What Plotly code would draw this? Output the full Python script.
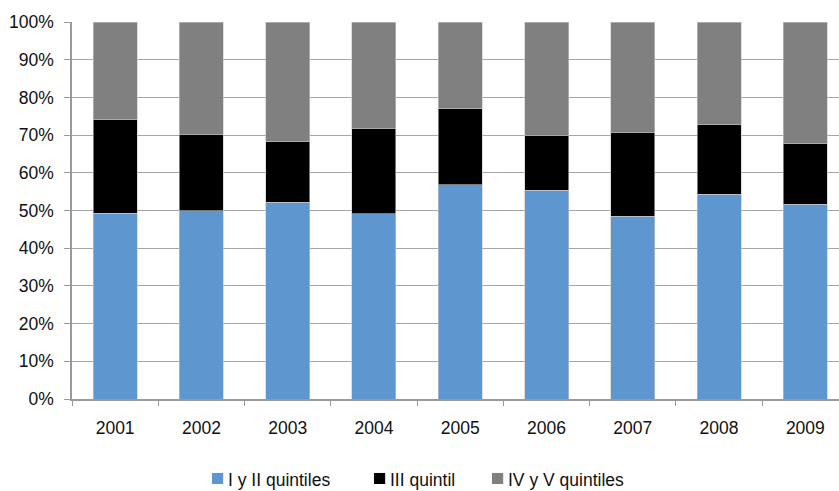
import plotly.graph_objects as go

years = ["2001", "2002", "2003", "2004", "2005", "2006", "2007", "2008", "2009"]
q1_2 = [49.3, 49.9, 52.2, 49.1, 56.8, 55.4, 48.5, 54.3, 51.7]
q3 = [24.8, 20.3, 16.1, 22.7, 20.2, 14.5, 22.3, 18.4, 16.0]
q4_5 = [25.9, 29.8, 31.7, 28.2, 23.0, 30.1, 29.2, 27.3, 32.3]

series = [
    ("I y II quintiles", q1_2, "#5e96cf"),
    ("III quintil", q3, "#000000"),
    ("IV y V quintiles", q4_5, "#808080"),
]

font_family = "Liberation Sans Narrow, Arial Narrow, Liberation Sans, sans-serif"
font_size = 17.5
text_color = "#111111"

fig = go.Figure()
for name, vals, color in series:
    fig.add_trace(go.Bar(
        x=years, y=vals, name=name,
        marker=dict(color=color, line=dict(color="#c8c8c8", width=0.6)),
        width=0.51, showlegend=False,
    ))

# Legend drawn as swatches + labels below the axis (paper coordinates)
legend_swatch_x = [0.1825, 0.3937, 0.5476]
swatch_w = 0.0146
swatch_y0, swatch_y1 = -0.2254, -0.1962
label_gap = 0.004
for (name, _, color), sx in zip(series, legend_swatch_x):
    fig.add_shape(type="rect", xref="paper", yref="paper",
                  x0=sx, x1=sx + swatch_w, y0=swatch_y0, y1=swatch_y1,
                  fillcolor=color, line=dict(width=0))
    fig.add_annotation(xref="paper", yref="paper",
                       x=sx + swatch_w + label_gap, y=(swatch_y0 + swatch_y1) / 2 - 0.004,
                       xanchor="left", yanchor="middle", showarrow=False,
                       text=name, font=dict(size=font_size, color=text_color, family=font_family))

fig.update_layout(
    barmode="stack",
    width=839, height=491,
    margin=dict(l=72, r=0, t=22, b=92),
    plot_bgcolor="white", paper_bgcolor="white",
    font=dict(family=font_family, size=font_size, color=text_color),
    showlegend=False,
    xaxis=dict(
        type="category", range=[-0.5, 8.39], automargin=False,
        showline=True, linecolor="#9a9a9a", linewidth=1.5,
        ticks="outside", tickson="boundaries", ticklen=5, tickcolor="#9a9a9a",
        showgrid=False, tickfont=dict(size=font_size), ticklabelstandoff=12,
    ),
    yaxis=dict(
        range=[0, 100], dtick=10, ticksuffix="%", automargin=False,
        showline=True, linecolor="#9a9a9a", linewidth=1.5,
        ticks="outside", ticklen=6, tickcolor="#9a9a9a",
        showgrid=True, gridcolor="#a6a6a6", gridwidth=1.3,
        tickfont=dict(size=font_size), ticklabelstandoff=7, zeroline=False,
    ),
)

fig.write_html("out.html")
